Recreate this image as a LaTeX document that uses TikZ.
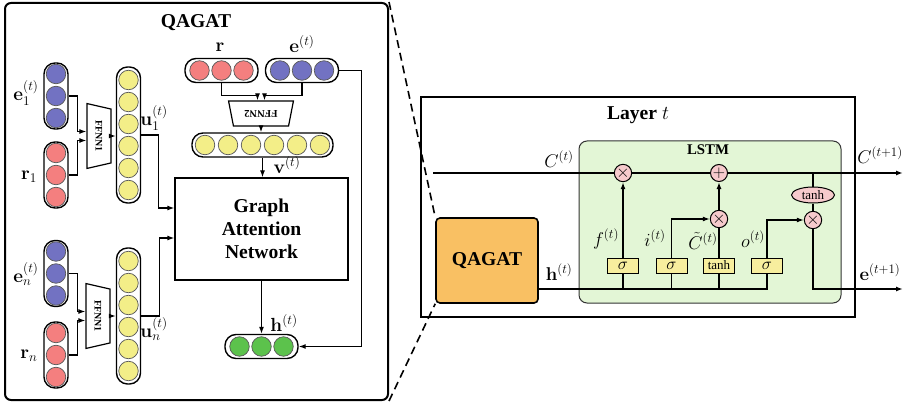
\RequirePackage{fix-cm}
\documentclass[tikz,border=0pt]{standalone}
\usepackage[no-math]{fontspec}
\setmainfont{Liberation Serif}
\usepackage{amsmath,amssymb}
\usetikzlibrary{arrows.meta,positioning,calc,shapes.geometric}
\definecolor{embblue}{HTML}{7272C2}
\definecolor{relred}{HTML}{F47F7F}
\definecolor{hidyel}{HTML}{F3EE88}
\definecolor{outgrn}{HTML}{5CC24C}
\definecolor{gatorg}{HTML}{F9C063}
\definecolor{lstmbg}{HTML}{E3F6D6}
\definecolor{oppink}{HTML}{F6CACC}
\definecolor{gateyel}{HTML}{F7EE9E}

\tikzset{
  pill/.style={draw, line width=1.4pt, rounded corners=11pt, inner sep=0pt},
  dot/.style={circle, draw=black!65, line width=0.7pt, minimum size=19.5pt, inner sep=0pt},
  ffnn/.style={trapezium, trapezium stretches=true, draw, line width=1.2pt, inner sep=0pt,
    fill=white, font=\bfseries\fontsize{10}{10}\selectfont},
  lbl/.style={font=\fontsize{19}{21}\selectfont},
  rlbl/.style={font=\fontsize{18.5}{21}\selectfont},
  ttl/.style={font=\bfseries\fontsize{19.6}{23}\selectfont},
  op/.style={circle, draw, fill=oppink, line width=1pt, minimum size=17pt, inner sep=0pt,
    font=\fontsize{17}{17}\selectfont},
  gatebox/.style={draw, fill=gateyel, line width=1pt, minimum width=31pt, minimum height=15pt,
    inner sep=0pt},
  conn/.style={line width=1.2pt},
  flow/.style={line width=1.9pt},
}

\begin{document}
\begin{tikzpicture}[x=1pt, y=-1pt, >={Latex[length=7pt,width=5pt]}]
  \useasboundingbox (0,0) rectangle (909,406);

  % ---- QAGAT panel ----
  \node[draw, line width=2pt, rounded corners=6pt, minimum width=383pt, minimum height=397pt]
    (panel) at (196.5,201.5) {};
  \node[ttl] (qtitle) at (196,23) {QAGAT};

  % entity / relation columns
  \foreach \nm/\cx/\cy/\col in {e1/56/96/embblue, r1/56/175/relred, en/56/273.5/embblue, rn/56/355/relred}{
    \node[pill, minimum width=24pt, minimum height=66pt] (\nm) at (\cx,\cy) {};
    \foreach \k in {-1,0,1}
      \node[dot, fill=\col] (\nm-\k) at ($(\nm)+(0,22*\k)$) {};
  }
  \node[lbl] (le1) at (26,93) {$\mathbf{e}_1^{(t)}$};
  \node[lbl] (lr1) at (29,177) {$\mathbf{r}_1$};
  \node[lbl] (len) at (26,274) {$\mathbf{e}_n^{(t)}$};
  \node[lbl] (lrn) at (29,356) {$\mathbf{r}_n$};

  % FFNN1 blocks
  \node[ffnn, rotate=-90, minimum width=65pt, minimum height=24pt,
    trapezium left angle=64, trapezium right angle=64] (ffa) at (99,136) {FFNN1};
  \node[ffnn, rotate=-90, minimum width=65pt, minimum height=24pt,
    trapezium left angle=64, trapezium right angle=64] (ffc) at (98,316) {FFNN1};
  \draw[conn,->] (e1.east) -- ++(9,0) |- ($(ffa.south)+(0,-4.5)$);
  \draw[conn,->] (r1.east) -- ++(9,0) |- ($(ffa.south)+(0,4.5)$);
  \draw[conn,->] (en.east) -- ++(9,0) |- ($(ffc.south)+(0,-4.5)$);
  \draw[conn,->] (rn.east) -- ++(9,0) |- ($(ffc.south)+(0,4.5)$);

  % u columns
  \foreach \nm/\cy in {u1/135, un/316}{
    \node[pill, minimum width=24pt, minimum height=136pt] (\nm) at (128.5,\cy) {};
    \foreach \k in {-2.5,-1.5,-0.5,0.5,1.5,2.5}
      \node[dot, fill=hidyel] (\nm-\k) at ($(\nm)+(0,22*\k)$) {};
  }
  \node[lbl] (lu1) at (154,118) {$\mathbf{u}_1^{(t)}$};
  \node[lbl] (lun) at (154,329) {$\mathbf{u}_n^{(t)}$};
  \draw[conn,->] (ffa.north) -- (ffa.north -| u1.west);
  \draw[conn,->] (ffc.north) -- (ffc.north -| un.west);

  % graph attention network
  \node[draw, line width=1.2pt, minimum width=173pt, minimum height=102pt, align=center,
    font=\bfseries\fontsize{19.6}{23}\selectfont] (gat) at (261.5,229) {Graph\\Attention\\Network};
  \draw[conn,->] (u1.east) -- ++(17,0) |- ($(gat.west)+(0,-21)$);
  \draw[conn,->] (un.east) -- ++(18,0) |- ($(gat.west)+(0,9)$);

  % query relation and entity
  \foreach \nm/\cx/\col in {rq/221.5/relred, eq/302/embblue}{
    \node[pill, minimum width=73pt, minimum height=24pt] (\nm) at (\cx,70.5) {};
    \foreach \k in {-1,0,1}
      \node[dot, fill=\col] (\nm-\k) at ($(\nm)+(22*\k,0)$) {};
  }
  \node[lbl] (lrq) at (220,47) {$\mathbf{r}$};
  \node[lbl] (leq) at (302,44) {$\mathbf{e}^{(t)}$};

  \node[ffnn, rotate=180, minimum width=65pt, minimum height=25pt,
    trapezium left angle=67, trapezium right angle=67,
    font=\bfseries\fontsize{10.5}{10.5}\selectfont] (ffb) at (261,113.5) {FFNN2};
  \draw[conn,->] (rq.south) -- ++(0,12.5) -| ($(ffb.south)+(-3.5,0)$);
  \draw[conn,->] (eq.south) -- ++(0,12.5) -| ($(ffb.south)+(3.5,0)$);

  % v vector
  \node[pill, minimum width=141pt, minimum height=24pt] (vv) at (262.5,145) {};
  \foreach \k in {-2.5,-1.5,-0.5,0.5,1.5,2.5}
    \node[dot, fill=hidyel] (vv-\k) at ($(vv)+(23*\k,0)$) {};
  \node[lbl] (lvv) at (287,165) {$\mathbf{v}^{(t)}$};
  \draw[conn,->] (ffb.north) -- (ffb.north |- vv.north);
  \draw[conn,->] (vv.south) -- (vv.south |- gat.north);

  % h output
  \node[pill, minimum width=73pt, minimum height=24pt] (hh) at (261.5,346.5) {};
  \foreach \k in {-1,0,1}
    \node[dot, fill=outgrn] (hh-\k) at ($(hh)+(22*\k,0)$) {};
  \node[lbl] (lhh) at (284,323) {$\mathbf{h}^{(t)}$};
  \draw[conn,->] (gat.south) -- (gat.south |- hh.north);
  \draw[conn,->] (eq.east) -- ++(22,0) |- (hh.east);

  % ---- Layer t ----
  \node[draw, line width=2pt, minimum width=434pt, minimum height=220pt] (layer) at (638,207) {};
  \node[font=\bfseries\fontsize{19.6}{23}\selectfont] (ltitle) at (638,115) {Layer $t$};

  \node[draw, fill=gatorg, line width=1.6pt, rounded corners=4pt, minimum width=102pt,
    minimum height=85pt, font=\bfseries\fontsize{19.6}{23}\selectfont] (qagat) at (487,260.5) {QAGAT};

  \node[draw=black!80, fill=lstmbg, line width=1pt, rounded corners=8pt, minimum width=262pt,
    minimum height=162pt] (lstm) at (710,222) {};
  \node[font=\bfseries\fontsize{14.8}{16}\selectfont] (lstmt) at (708,150) {LSTM};

  % gates
  \node[gatebox] (gf) at (623,265.5) {\fontsize{17}{17}\selectfont$\sigma$};
  \node[gatebox] (gi) at (671.5,265.5) {\fontsize{17}{17}\selectfont$\sigma$};
  \node[gatebox] (gc) at (719,265.5) {\fontsize{13}{13}\selectfont tanh};
  \node[gatebox] (go) at (767,265.5) {\fontsize{17}{17}\selectfont$\sigma$};

  % pointwise operations
  \node[op] (fx) at (623,173) {$\times$};
  \node[op] (ad) at (719,173) {$+$};
  \node[op] (ix) at (719,219) {$\times$};
  \node[op] (ox) at (813,220) {$\times$};
  \node[ellipse, draw, fill=oppink, line width=1pt, minimum width=43pt, minimum height=16pt,
    inner sep=0pt, font=\fontsize{13}{13}\selectfont] (ct) at (813,195) {tanh};

  \coordinate (cin) at (433,173);
  \coordinate (cout) at (903,173);
  \coordinate (hbus) at (767,289);
  \coordinate (eout) at (903,289);

  % cell state
  \draw[flow] (cin) -- (fx);
  \draw[flow] (fx) -- (ad);
  \draw[flow,->] (ad) -- (cout);
  \draw[flow] (ct.north) -- (ct.north |- cout);
  \draw[flow] (ct) -- (ox);
  \draw[flow,->] (ox.south) |- (eout);

  % hidden input
  \draw[flow] (qagat.east |- hbus) -- (hbus) -- (go.south);
  \foreach \g in {gf,gi,gc}
    \draw[flow] (\g.south) -- (\g.south |- hbus);

  \draw[flow,->] (gf.north) -- (fx.south);
  \draw[flow,->] (gi.north) |- (ix.west);
  \draw[flow] (gc.north) -- (ix.south);
  \draw[flow,->] (ix.north) -- (ad.south);
  \draw[flow,->] (go.north) |- (ox.west);

  \node[rlbl] (lf) at (606,239) {$f^{(t)}$};
  \node[rlbl] (li) at (655,238) {$i^{(t)}$};
  \node[rlbl] (lc) at (703,241) {$\tilde{C}^{(t)}$};
  \node[rlbl] (lo) at (753,239) {$o^{(t)}$};
  \node[rlbl] (lcin) at (559,159) {$C^{(t)}$};
  \node[rlbl] (lhin) at (559,272) {$\mathbf{h}^{(t)}$};
  \node[rlbl] (lcout) at (880,155) {$C^{(t+1)}$};
  \node[rlbl] (leout) at (880,272) {$\mathbf{e}^{(t+1)}$};

  % zoom lines
  \draw[line width=1.6pt, dash pattern=on 8pt off 5pt] (panel.north east) -- (qagat.north west);
  \draw[line width=1.6pt, dash pattern=on 8pt off 5pt] (panel.south east) -- (qagat.south west);
\end{tikzpicture}
\end{document}
